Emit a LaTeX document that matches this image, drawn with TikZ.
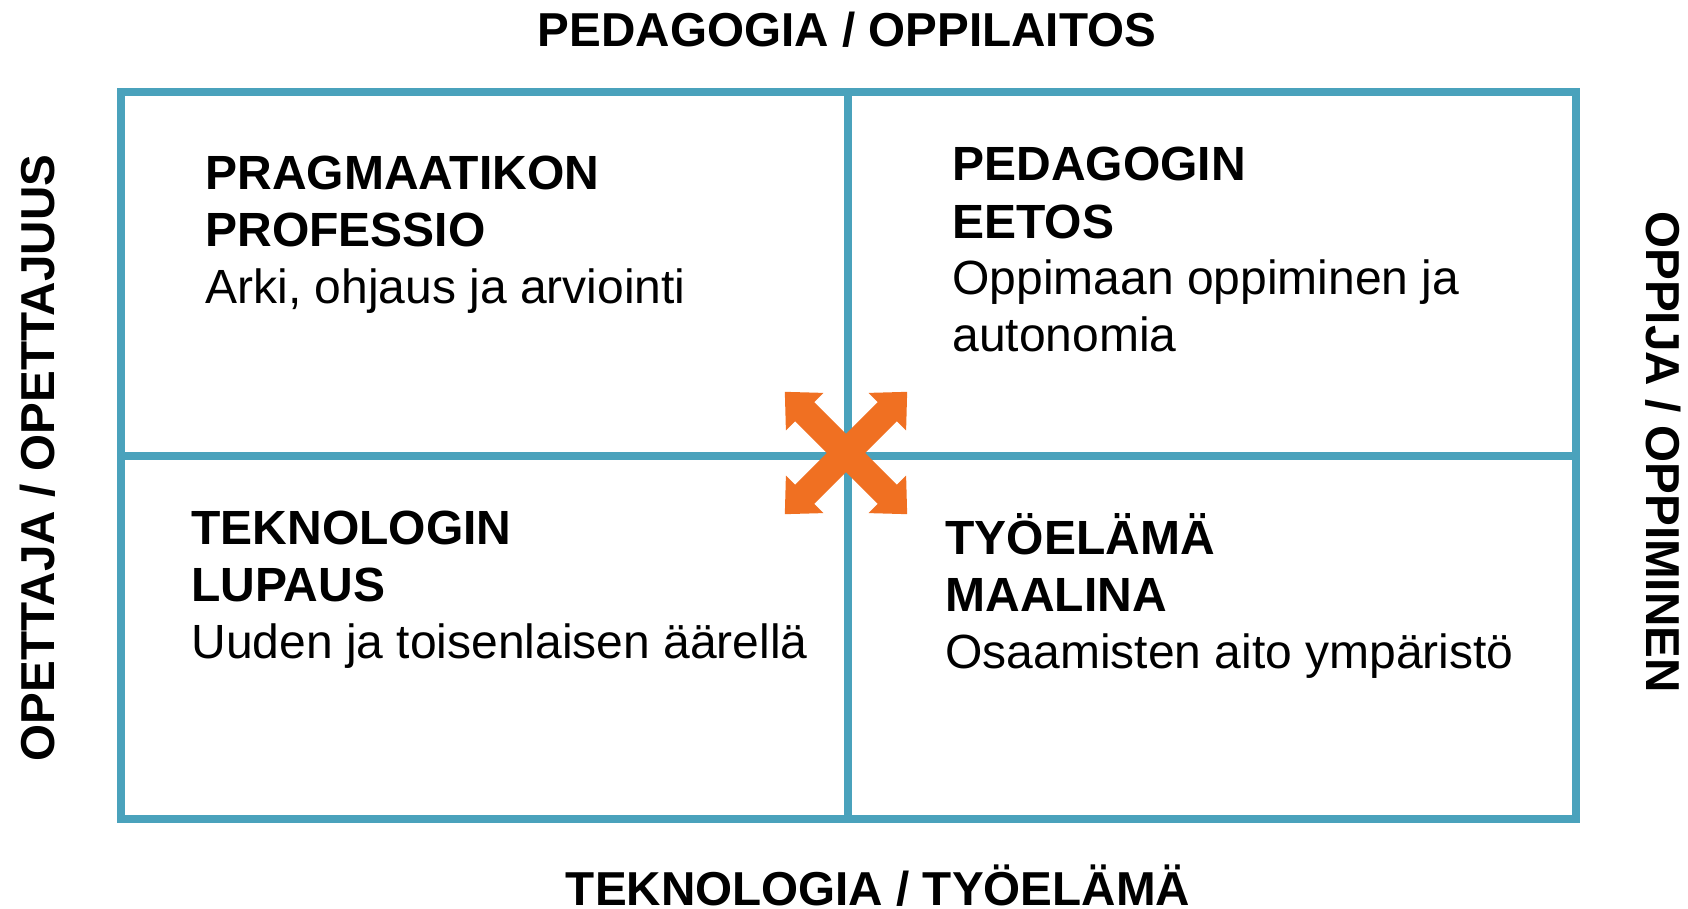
\documentclass[tikz,border=0pt]{standalone}
\usepackage{fontspec}
\setmainfont{Liberation Sans}
\definecolor{gridblue}{HTML}{4AA2BC}
\definecolor{arroworange}{HTML}{F07022}
\tikzset{
  axislabel/.style={font=\fontsize{23.8}{28.5}\selectfont\bfseries,inner sep=0pt},
  quadtext/.style={anchor=base west,align=left,inner sep=0pt,font=\fontsize{24}{28.5}\selectfont},
  gridline/.style={draw=gridblue,line width=4pt},
  crossarrow/.style={fill=arroworange},
}

\begin{document}
\begin{tikzpicture}[x=0.5pt,y=-0.5pt]
  \useasboundingbox (0,0) rectangle (1688,909);
  \coordinate (nw) at (121,92);
  \coordinate (se) at (1576,819);
  \coordinate (mid) at (848,456);
  \draw[gridline] (nw) rectangle (se);
  \draw[gridline] (nw -| mid) -- (se -| mid);
  \draw[gridline] (nw |- mid) -- (se |- mid);
  % ristinuoli keskella
  \foreach \ang in {45,-45}
    \fill[crossarrow,shift={(846,453)},rotate=\ang] (86.5,0) -- (58.5,26.5) -- (58.5,13.5) -- (-58.5,13.5) -- (-58.5,26.5)
      -- (-86.5,0) -- (-58.5,-26.5) -- (-58.5,-13.5) -- (58.5,-13.5) -- (58.5,-26.5) -- cycle;

  \node[axislabel,anchor=base] (ped) at (847,47) {PEDAGOGIA / OPPILAITOS};
  \node[axislabel,anchor=base] (tek) at (878,905) {TEKNOLOGIA / TYÖELÄMÄ};
  \node[axislabel,rotate=90] (ope) at (38,458) {OPETTAJA / OPETTAJUUS};
  \node[axislabel,rotate=-90] (opp) at (1663,452) {OPPIJA / OPPIMINEN};

  % ankkuri = viimeisen rivin perusviiva
  \node[quadtext] (prag) at (205,304) {\textbf{PRAGMAATIKON}\\\textbf{PROFESSIO}\\Arki, ohjaus ja arviointi};
  \node[quadtext] (eetos) at (952,352) {\textbf{PEDAGOGIN}\\\textbf{EETOS}\\Oppimaan oppiminen ja\\autonomia};
  \node[quadtext] (lupaus) at (191,658) {\textbf{TEKNOLOGIN}\\\textbf{LUPAUS}\\Uuden ja toisenlaisen äärellä};
  \node[quadtext] (maali) at (945,668) {\textbf{TYÖELÄMÄ}\\\textbf{MAALINA}\\Osaamisten aito ympäristö};
\end{tikzpicture}
\end{document}
